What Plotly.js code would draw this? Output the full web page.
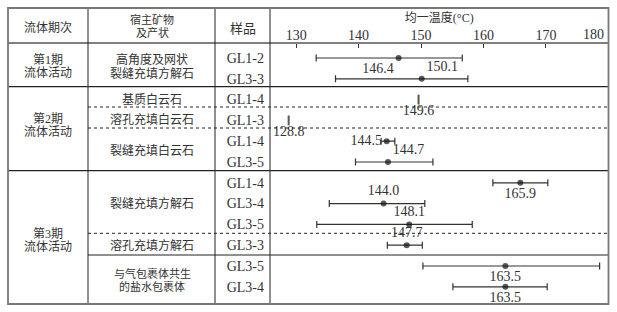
<!DOCTYPE html>
<html><head><meta charset="utf-8">
<script src="https://cdn.plot.ly/plotly-3.0.1.min.js"></script>
<style>html,body{margin:0;padding:0;background:#fff}#chart{width:617px;height:312px}</style>
</head><body><div id="chart"></div>
<script>
// ---------- data ----------
const samples   = ['GL1-2','GL3-3','GL1-4','GL1-3','GL1-4','GL3-5','GL1-4','GL3-4','GL3-5','GL3-3','GL3-5','GL3-4'];
const means     = [146.4, 150.1, 149.6, 128.8, 144.5, 144.7, 165.9, 144.0, 148.1, 147.7, 163.5, 163.5];
const rangeMin  = [133.2, 136.3, null,  null,  143.6, 139.5, 161.5, 135.3, 133.3, 144.6, 150.3, 155.1];
const rangeMax  = [156.6, 157.5, null,  null,  145.8, 151.9, 170.3, 150.6, 158.2, 150.2, 178.6, 170.2];
const labelPos  = ['bottom left','top right','bottom center','bottom center','middle left','top right',
                   'bottom center','top center','top center','top center','bottom center','bottom center'];
const stages    = [['第1期','流体活动'],['第2期','流体活动'],['第3期','流体活动']];
const hosts     = [['高角度及网状','裂缝充填方解石'],['基质白云石'],['溶孔充填白云石'],['裂缝充填白云石'],
                   ['裂缝充填方解石'],['溶孔充填方解石'],['与气包裹体共生','的盐水包裹体']];
const headers   = [['流体期次'],['宿主矿物','及产状'],['样品']];
const axisTitle = '均一温度(°C)';
const xTicks    = [130,140,150,160,170,180];

// ---------- layout geometry (pixels) ----------
const W = 617, H = 312;
const px = x => x / W, py = y => 1 - y / H;
const L = 8, C1 = 88, C2 = 215, C3 = 270, R = 608.5;
const T = 8, HDR = 43, S1 = 86.7, S2 = 170.7, B = 304;
const stageY = [66.5, 125.5, 240], stageX = 48;
const hostY = [66.5, 99, 119, 150, 203, 245, 280], hostX = 152;
const hostGap = [13, 13, 13, 13, 13, 13, 12.5];
const hostSize = [12, 12, 12, 12, 12, 12, 11];
const headerX = [48, 152, 243], headerY = [28, 26, 28], headerGap = [13, 12.5, 13], headerSize = [12, 11, 13];

const CJK = 'Liberation Serif, Noto Sans CJK SC, sans-serif';
const txtColor = '#333';
const numFont = {family: 'Liberation Serif', size: 14, color: txtColor};

const rows = samples.map((_, i) => i);
const isSingle = rangeMin.map(v => v === null);

const trace = {
  type: 'scatter', mode: 'markers+text',
  x: means, y: rows,
  text: means.map(v => v.toFixed(1)),
  textposition: labelPos,
  textfont: numFont,
  cliponaxis: false,
  hoverinfo: 'skip',
  marker: {
    color: '#111',
    size: isSingle.map(s => s ? 7 : 6),
    symbol: isSingle.map(s => s ? 'line-ns-open' : 'circle'),
    line: {color: '#222', width: isSingle.map(s => s ? 2 : 0)}
  },
  error_x: {
    type: 'data', symmetric: false,
    array: means.map((m, i) => isSingle[i] ? NaN : rangeMax[i] - m),
    arrayminus: means.map((m, i) => isSingle[i] ? NaN : m - rangeMin[i]),
    color: '#333', thickness: 1.2, width: 3.5
  }
};

const annotations = [];
function addLines(lines, x, yc, gap, size) {
  const n = lines.length;
  lines.forEach((t, k) => {
    const y = yc + (k - (n - 1) / 2) * gap;
    annotations.push({xref: 'paper', yref: 'paper', x: px(x), y: py(y), text: t, showarrow: false,
      xanchor: 'center', yanchor: 'middle', font: {family: CJK, size: size, color: txtColor}});
  });
}
headers.forEach((h, i) => addLines(h, headerX[i], headerY[i], headerGap[i], headerSize[i]));
stages.forEach((s, i) => addLines(s, stageX, stageY[i], 13, 12));
hosts.forEach((h, i) => addLines(h, hostX, hostY[i], hostGap[i], hostSize[i]));

// last tick label sits inside the frame (right-aligned to its tick), as in the reference
const lastTick = xTicks[xTicks.length - 1];
annotations.push({xref: 'x', yref: 'paper', x: lastTick, y: py(34.5), text: String(lastTick),
  showarrow: false, xanchor: 'right', yanchor: 'middle', xshift: -2, font: numFont});

const dark = '#222';
const hline = (y, x0, x1, color, width, dash) => ({type: 'line', xref: 'paper', yref: 'paper',
  x0: px(x0), x1: px(x1), y0: py(y), y1: py(y), line: {color, width, dash: dash || 'solid'}});
const vline = (x, y0, y1, color, width) => ({type: 'line', xref: 'paper', yref: 'paper',
  x0: px(x), x1: px(x), y0: py(y0), y1: py(y1), line: {color, width}});
const shapes = [
  hline(HDR, L, R, '#555', 1.5),
  hline(S1, L, R, dark, 1.2),
  hline(S2, L, R, dark, 1.2),
  hline(107, C1, R, dark, 1, 'dot'),
  hline(128, C1, R, dark, 1, 'dot'),
  hline(233.3, C1, R, dark, 1, 'dot'),
  hline(255, C1, R, dark, 1.2),
  vline(C1, T, B, dark, 1),
  vline(C2, T, B, dark, 1),
  vline(C3, T, B, dark, 1),
  {type: 'rect', xref: 'paper', yref: 'paper', x0: px(L), x1: px(R), y0: py(B), y1: py(T),
   line: {color: '#777', width: 1.8}}
];

const layout = {
  width: W, height: H,
  margin: {l: 0, r: 0, t: 0, b: 0},
  paper_bgcolor: '#fff', plot_bgcolor: 'rgba(0,0,0,0)',
  showlegend: false,
  xaxis: {
    domain: [px(C3), px(R)], range: [130 - (296.2 - C3) / 6.25, 180.02],
    anchor: 'free', position: py(HDR), side: 'top',
    tickvals: xTicks,
    ticktext: xTicks.map((v, i) => i === xTicks.length - 1 ? '' : String(v)),
    ticks: 'inside', ticklen: 4, tickwidth: 1, tickcolor: '#333',
    tickfont: numFont,
    showline: false, showgrid: false, zeroline: false,
    title: {text: axisTitle, font: {family: CJK, size: 12, color: txtColor}, standoff: 2},
    fixedrange: true
  },
  yaxis: {
    domain: [0, 1], range: [12.212, -2.788],
    anchor: 'free', position: px(C3), side: 'left',
    tickvals: rows, ticktext: samples,
    ticks: '', ticklen: 0, ticklabelstandoff: 6,
    tickfont: numFont,
    showline: false, showgrid: false, zeroline: false, fixedrange: true
  },
  shapes, annotations
};

Plotly.newPlot('chart', [trace], layout, {staticPlot: true, displayModeBar: false});
</script>
</body></html>
